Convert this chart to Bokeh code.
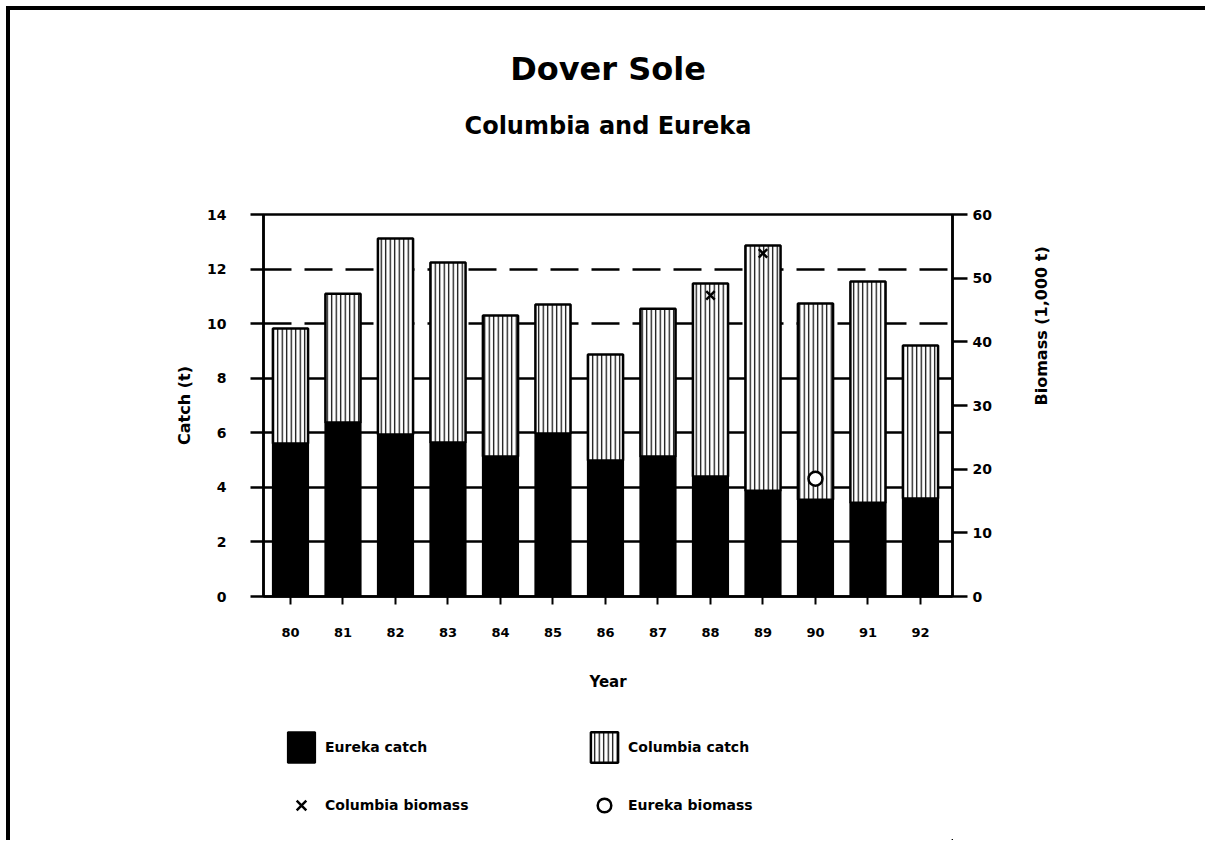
import math
from bokeh.plotting import figure
from bokeh.layouts import column
from bokeh.models import (ColumnDataSource, Range1d, LinearAxis, FixedTicker, Grid,
                          Legend, LegendItem, Title)
from bokeh.embed import file_html
from bokeh.resources import INLINE

# ---- data ----
years = [80, 81, 82, 83, 84, 85, 86, 87, 88, 89, 90, 91, 92]
year_labels = ["80", "81", "82", "83", "84", "85", "86", "87", "88", "89", "90", "91", "92"]
eureka_catch = [5.61, 6.38, 5.94, 5.64, 5.13, 5.97, 4.98, 5.13, 4.40, 3.88, 3.55, 3.44, 3.59]
columbia_catch = [4.21, 4.72, 7.18, 6.60, 5.17, 4.73, 3.89, 5.42, 7.07, 8.98, 7.19, 8.10, 5.61]
columbia_biomass_years = [88, 89]
columbia_biomass = [47.3, 53.9]
eureka_biomass_years = [90]
eureka_biomass = [18.5]
catch_ticks = [0, 2, 4, 6, 8, 10, 12, 14]
biomass_ticks = [0, 10, 20, 30, 40, 50, 60]
solid_grid = [2, 4, 6, 8]
dashed_grid = [10, 12]
legend_labels = ["Eureka catch", "Columbia catch", "Columbia biomass", "Eureka biomass"]

FONT = "DejaVu Sans"

src = ColumnDataSource(dict(
    year=years,
    eureka=eureka_catch,
    columbia=columbia_catch,
    total=[e + c for e, c in zip(eureka_catch, columbia_catch)],
))

# ---------------- main chart ----------------
p = figure(frame_width=689, frame_height=382, output_backend="svg", toolbar_location=None,
           x_range=Range1d(79.486, 92.61), y_range=Range1d(0, 14),
           min_border_left=263, min_border_right=253,
           min_border_top=214, min_border_bottom=110,
           background_fill_color="white", border_fill_color=None)
p.extra_y_ranges = {"bio": Range1d(0, 60)}
p.outline_line_color = "black"
p.outline_line_width = 2.5
p.styles = {"box-shadow": "inset 6px 6px 0 0 white, inset 10px 10px 0 0 black"}

# grids
p.xgrid.visible = False
p.ygrid.ticker = FixedTicker(ticks=solid_grid)
p.ygrid.grid_line_color = "black"
p.ygrid.grid_line_width = 2.5
dgrid = Grid(dimension=1, ticker=FixedTicker(ticks=dashed_grid),
             grid_line_color="black", grid_line_width=2.5, grid_line_dash="28 13")
p.add_layout(dgrid)

# axes
p.yaxis.ticker = FixedTicker(ticks=catch_ticks)
p.yaxis.axis_label = "Catch (t)"
ra = LinearAxis(y_range_name="bio", ticker=FixedTicker(ticks=biomass_ticks),
                axis_label="Biomass (1,000 t)", axis_label_orientation=math.pi / 2)
p.add_layout(ra, "right")
p.xaxis.ticker = FixedTicker(ticks=years)
p.xaxis.major_label_overrides = {y: s for y, s in zip(years, year_labels)}
p.xaxis.axis_label = "Year"

for ax in [p.yaxis[0], ra, p.xaxis[0]]:
    ax.axis_line_color = "black"
    ax.axis_line_width = 2.5
    ax.major_tick_line_color = "black"
    ax.major_tick_line_width = 2.5
    ax.major_tick_in = 0
    ax.minor_tick_line_color = None
    ax.major_label_text_font = FONT
    ax.major_label_text_font_style = "bold"
    ax.major_label_text_color = "black"
    ax.axis_label_text_font = FONT
    ax.axis_label_text_font_style = "bold"
    ax.axis_label_text_color = "black"
    ax.axis_label_text_font_size = "16px"

ly = p.yaxis[0]
ly.major_tick_out = 13
ly.major_label_standoff = 24
ly.major_label_text_font_size = "14px"
ly.axis_label_standoff = 10

ra.major_tick_out = 15
ra.major_label_standoff = 5
ra.major_label_text_font_size = "14px"
ra.axis_label_standoff = 47

bx = p.xaxis[0]
bx.major_tick_out = 8
bx.major_tick_line_width = 2
bx.major_label_standoff = 23
bx.major_label_text_font_size = "13px"
bx.axis_label_text_font_size = "15px"
bx.axis_label_standoff = 33

# invisible spacer between the frame and the subtitle
spacer = LinearAxis(ticker=FixedTicker(ticks=[86]), major_label_overrides={86: ""},
                    axis_line_color=None, major_tick_line_color=None,
                    minor_tick_line_color=None, major_tick_out=69, major_tick_in=0,
                    major_label_standoff=0, major_label_text_font_size="1px")
p.add_layout(spacer, "above")
p.add_layout(Title(text="Columbia and Eureka", align="center", vertical_align="middle",
                   standoff=10, text_font=FONT, text_font_style="bold",
                   text_font_size="24px", text_color="black"), "above")
p.add_layout(Title(text="Dover Sole", align="center", vertical_align="middle",
                   standoff=33, text_font=FONT, text_font_style="bold",
                   text_font_size="32px", text_color="black"), "above")

# bars
eureka_style = dict(fill_color="black", line_color="black", line_width=2)
columbia_style = dict(fill_color="white", line_color="black", line_width=2.5,
                      hatch_pattern="|", hatch_color="black", hatch_scale=4.5, hatch_weight=1.2)
p.vbar(x="year", top="eureka", bottom=0, width=0.67, source=src, **eureka_style)
p.vbar(x="year", bottom="eureka", top="total", width=0.67, source=src, **columbia_style)

# biomass markers
cb_style = dict(marker="x", line_color="black", line_width=2.5)
eb_style = dict(marker="circle", fill_color="white", line_color="black", line_width=2.5)
p.scatter(x=columbia_biomass_years, y=columbia_biomass, y_range_name="bio", size=12, **cb_style)
p.scatter(x=eureka_biomass_years, y=eureka_biomass, y_range_name="bio", size=14, **eb_style)

# ---------------- legend strip below the chart ----------------
# its frame is aligned with the chart's frame by the column layout; the key
# renderers reuse the same data, which lies entirely outside this strip's
# ranges, so they only supply the legend swatches
q = figure(width=1205, height=134, output_backend="svg", toolbar_location=None,
           x_range=Range1d(0, 1), y_range=Range1d(1000, 1001),
           x_axis_type=None, y_axis_type=None, min_border=0,
           background_fill_color="white", border_fill_color=None, outline_line_color=None)
q.grid.visible = False
q.styles = {"box-shadow": "inset 6px 0 0 0 white, inset 10px 0 0 0 black"}

k_e = q.vbar(x="year", top="eureka", bottom=0, width=0.67, source=src, **eureka_style)
k_c = q.vbar(x="year", bottom="eureka", top="total", width=0.67, source=src, **columbia_style)
k_cb = q.scatter(x=columbia_biomass_years, y=columbia_biomass, size=12, **cb_style)
k_eb = q.scatter(x=eureka_biomass_years, y=eureka_biomass, size=14, **eb_style)

legend = Legend(items=[
    LegendItem(label=legend_labels[0], renderers=[k_e]),
    LegendItem(label=legend_labels[1], renderers=[k_c]),
    LegendItem(label=legend_labels[2], renderers=[k_cb]),
    LegendItem(label=legend_labels[3], renderers=[k_eb]),
], orientation="horizontal", ncols=2, location=(21, 7),
    glyph_width=34, glyph_height=38, label_standoff=7, label_width=260, label_height=56,
    spacing=2, padding=0, margin=0, border_line_color=None, background_fill_alpha=0,
    label_text_font=FONT, label_text_font_style="bold", label_text_font_size="14px",
    label_text_color="black")
q.add_layout(legend)

open("out.html", "w").write(file_html(column(p, q, spacing=0), INLINE))
